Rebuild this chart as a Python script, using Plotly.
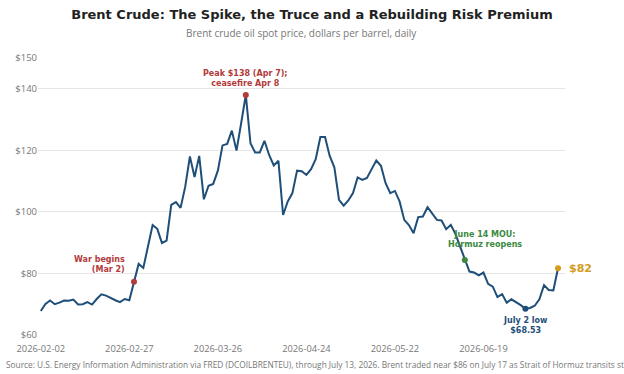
import pandas as pd
import plotly.graph_objects as go

# ---- data ----
holidays = ["2026-04-03", "2026-04-06", "2026-05-04", "2026-05-25"]
dates = [d.strftime("%Y-%m-%d") for d in pd.bdate_range("2026-02-02", "2026-07-13")
         if d.strftime("%Y-%m-%d") not in holidays]

prices = [
    67.8, 70.1, 71.2, 70.0, 70.5, 71.2, 71.1, 71.5, 69.9, 70.0,
    70.7, 69.9, 71.7, 73.2, 72.8, 72.0, 71.3, 70.7, 71.7, 71.3,
    77.3, 83.1, 81.8, 88.7, 95.7, 94.5, 89.9, 90.7, 102.3, 103.2,
    101.3, 108.2, 118.0, 111.3, 118.2, 104.1, 108.5, 109.1, 113.4, 121.6,
    122.1, 126.4, 119.9, 128.8, 138.0, 122.3, 119.3, 119.3, 123.1, 118.5,
    115.1, 116.6, 99.0, 103.4, 106.1, 113.4, 113.2, 112.0, 113.9, 117.1,
    124.3, 124.3, 118.2, 114.5, 103.9, 102.0, 103.7, 106.1, 111.2, 110.4,
    111.0, 113.9, 116.7, 115.0, 109.3, 106.1, 106.8, 103.4, 97.4, 95.7,
    93.1, 98.3, 98.5, 101.5, 99.3, 97.4, 97.2, 94.4, 95.8, 92.8,
    88.7, 84.4, 80.6, 80.3, 79.4, 80.3, 76.6, 75.7, 72.3, 73.3,
    70.5, 71.6, 70.7, 69.7, 68.53, 68.8, 69.5, 71.6, 76.2, 74.6,
    74.5, 81.7,
]

tick_dates = ["2026-02-02", "2026-02-27", "2026-03-26", "2026-04-24", "2026-05-22", "2026-06-19"]
y_ticks = [60, 80, 100, 120, 140, 150]
y_tick_labels = ["$60", "$80", "$100", "$120", "$140", "$150"]

war_date = "2026-03-02"
peak_date = "2026-04-07"
mou_date = "2026-06-15"
low_date = "2026-07-02"
end_date = dates[-1]

def val(d):
    return prices[dates.index(d)]

LINE = "#1f4e79"
RED = "#b23a3a"
GREEN = "#3b8a3e"
GOLD = "#d49b1c"
FONT = "Open Sans"
BOLD = "DejaVu Sans"

fig = go.Figure()
fig.add_trace(go.Scatter(x=dates, y=prices, mode="lines",
                         line=dict(color=LINE, width=2), hoverinfo="skip"))

for d, c in [(war_date, RED), (peak_date, RED), (mou_date, GREEN), (low_date, LINE), (end_date, GOLD)]:
    fig.add_trace(go.Scatter(x=[d], y=[val(d)], mode="markers",
                             marker=dict(color=c, size=6), cliponaxis=False))

ann = []
ann.append(dict(x=war_date, y=val(war_date), text="<b>War begins<br>(Mar 2)</b>",
                showarrow=False, xanchor="right", yanchor="bottom", align="right",
                xshift=-7, yshift=6, font=dict(family=BOLD, size=8, color=RED)))
ann.append(dict(x=peak_date, y=val(peak_date), text="<b>Peak $138 (Apr 7);<br>ceasefire Apr 8</b>",
                showarrow=False, xanchor="center", yanchor="bottom", align="center",
                yshift=5, font=dict(family=BOLD, size=8, color=RED)))
ann.append(dict(x=mou_date, y=val(mou_date), text="<b>June 14 MOU:<br>Hormuz reopens</b>",
                showarrow=False, xanchor="center", yanchor="bottom", align="center",
                xshift=20, yshift=9, font=dict(family=BOLD, size=8, color=GREEN)))
ann.append(dict(x=low_date, y=val(low_date), text="<b>July 2 low<br>$68.53</b>",
                showarrow=False, xanchor="center", yanchor="top", align="center",
                yshift=-5, font=dict(family=BOLD, size=8, color=LINE)))
ann.append(dict(x=end_date, y=val(end_date), text="<b>$82</b>",
                showarrow=False, xanchor="left", yanchor="middle",
                xshift=9, font=dict(family=BOLD, size=11, color=GOLD)))
ann.append(dict(xref="paper", yref="paper", x=0.5, y=1.09, xanchor="center", yanchor="middle",
                text="Brent crude oil spot price, dollars per barrel, daily", showarrow=False,
                font=dict(family=FONT, size=10, color="#777777")))
ann.append(dict(xref="paper", yref="paper", x=0, y=-0.105, xanchor="left", yanchor="middle",
                xshift=-34,
                text="Source: U.S. Energy Information Administration via FRED (DCOILBRENTEU), through July 13, 2026. "
                     "Brent traded near $86 on July 17 as Strait of Hormuz transits stalled.",
                showarrow=False, font=dict(family=FONT, size=8.3, color="#777777")))

fig.update_layout(
    width=624, height=374,
    margin=dict(l=38, r=59, t=58, b=39),
    paper_bgcolor="white", plot_bgcolor="white",
    showlegend=False,
    title=dict(text="<b>Brent Crude: The Spike, the Truce and a Rebuilding Risk Premium</b>",
               x=0.5, xanchor="center", y=1 - 14 / 374, yanchor="middle",
               font=dict(family=BOLD, size=13, color="#222222")),
    annotations=ann,
    font=dict(family=FONT, size=10, color="#777777"),
)
fig.update_xaxes(type="category", range=[-0.6, 112.5], tickmode="array", tickvals=tick_dates,
                 ticktext=tick_dates, showgrid=False, zeroline=False, showline=False,
                 ticks="", ticklabelstandoff=7, tickfont=dict(size=9.3, color="#777777"))
fig.update_yaxes(range=[60, 150], tickmode="array", tickvals=y_ticks, ticktext=y_tick_labels,
                 showgrid=True, gridcolor="#e6e6e6", gridwidth=1, zeroline=False, showline=False,
                 ticks="", tickfont=dict(size=9.5, color="#777777"))

fig.write_html("out.html")
